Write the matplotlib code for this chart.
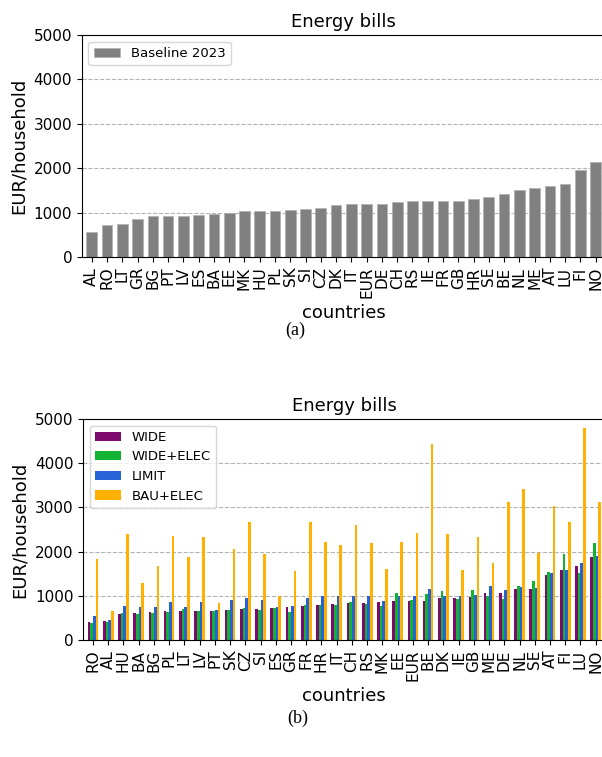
"""
Energy bills per household: baseline 2023 and scenarios.
"""

import numpy as np
import matplotlib
matplotlib.use('Agg')
import matplotlib.pyplot as plt

# --- Data (a): baseline 2023 ---
base_countries = ['AL', 'RO', 'LT', 'GR', 'BG', 'PT', 'LV', 'ES', 'BA', 'EE', 'MK',
                  'HU', 'PL', 'SK', 'SI', 'CZ', 'DK', 'IT', 'EUR', 'DE', 'CH', 'RS',
                  'IE', 'FR', 'GB', 'HR', 'SE', 'BE', 'NL', 'ME', 'AT', 'LU', 'FI', 'NO']
base_values = [564, 714, 737, 865, 925, 925, 932, 955, 962, 985, 1030,
               1038, 1045, 1060, 1083, 1113, 1173, 1195, 1195, 1203, 1241, 1256,
               1263, 1263, 1271, 1301, 1353, 1421, 1519, 1549, 1594, 1647, 1970, 2150]

# --- Data (b): scenarios ---
scen_countries = ['RO', 'AL', 'HU', 'BA', 'BG', 'PL', 'LT', 'LV', 'PT', 'SK', 'CZ',
                  'SI', 'ES', 'GR', 'FR', 'HR', 'IT', 'CH', 'RS', 'MK', 'EE', 'EUR',
                  'BE', 'DK', 'IE', 'GB', 'ME', 'DE', 'NL', 'SE', 'AT', 'FI', 'LU', 'NO']
wide = [414, 429, 586, 609, 632, 647, 647, 654, 654, 669, 692,
        707, 729, 744, 774, 789, 820, 827, 835, 850, 880, 880,
        887, 947, 947, 970, 1053, 1068, 1143, 1150, 1459, 1579, 1677, 1880]
wide_elec = [391, 414, 617, 586, 609, 632, 707, 647, 647, 669, 729,
             684, 729, 632, 797, 797, 782, 865, 805, 759, 1053, 895,
             1038, 1105, 932, 1128, 1000, 932, 1211, 1338, 1534, 1955, 1511, 2188]
limit = [541, 444, 767, 737, 744, 865, 744, 850, 669, 902, 947,
         895, 744, 774, 955, 992, 992, 1000, 1000, 887, 1000, 992,
         1143, 985, 992, 1008, 1211, 1120, 1188, 1165, 1511, 1594, 1752, 1902]
bau_elec = [1827, 662, 2391, 1293, 1669, 2361, 1872, 2338, 835, 2060, 2677,
            1940, 1000, 1564, 2677, 2211, 2158, 2602, 2188, 1602, 2211, 2421,
            4434, 2398, 1579, 2323, 1752, 3113, 3406, 1977, 3038, 2677, 4800, 3113]

scen_names = ['WIDE', 'WIDE+ELEC', 'LIMIT', 'BAU+ELEC']
scen_colors = ['#7d0a6c', '#12b233', '#2563d6', '#ffb000']

plt.rcParams['font.family'] = 'DejaVu Sans'
plt.rcParams['font.size'] = 11

fig = plt.figure(figsize=(6.02, 7.57), dpi=100)

# --- (a) baseline ---
ax1 = fig.add_axes([0.136, 0.6605, 0.87, 0.2933])
x1 = np.arange(len(base_countries))
ax1.bar(x1, base_values, width=0.7, color='gray', edgecolor='#b0b0b0',
        linewidth=0.5, label='Baseline 2023', zorder=2)
ax1.set_xticks(x1)
ax1.set_xticklabels(base_countries, rotation=90)
ax1.set_xlim(-0.65, len(base_countries) - 0.35)
ax1.set_ylim(0, 5000)
ax1.set_yticks(range(0, 5001, 1000))
ax1.tick_params(labelsize=11)
ax1.grid(axis='y', linestyle='--', color='gray', alpha=0.6, linewidth=0.8, zorder=0)
ax1.set_axisbelow(True)
ax1.set_title('Energy bills', fontsize=13)
ax1.set_xlabel('countries', fontsize=13)
ax1.set_ylabel('EUR/household', fontsize=13)
ax1.legend(loc='upper left', fontsize=9.5)

# --- (b) scenarios ---
ax2 = fig.add_axes([0.138, 0.1546, 0.868, 0.2919])
x2 = np.arange(len(scen_countries))
w = 0.175
for i, (vals, name, col) in enumerate(zip([wide, wide_elec, limit, bau_elec],
                                           scen_names, scen_colors)):
    ax2.bar(x2 + (i - 1.5) * w, vals, width=w, color=col, label=name, zorder=2)
ax2.set_xticks(x2)
ax2.set_xticklabels(scen_countries, rotation=90)
ax2.set_xlim(-0.65, len(scen_countries) - 0.35)
ax2.set_ylim(0, 5000)
ax2.set_yticks(range(0, 5001, 1000))
ax2.tick_params(labelsize=11)
ax2.grid(axis='y', linestyle='--', color='gray', alpha=0.6, linewidth=0.8, zorder=0)
ax2.set_axisbelow(True)
ax2.set_title('Energy bills', fontsize=13)
ax2.set_xlabel('countries', fontsize=13)
ax2.set_ylabel('EUR/household', fontsize=13)
ax2.legend(loc='upper left', fontsize=9.5)

# --- captions ---
fig.text(0.49, 1 - 330 / 757, '(a)', ha='center', va='center',
         family='Liberation Serif', fontsize=13)
fig.text(0.495, 1 - 718 / 757, '(b)', ha='center', va='center',
         family='Liberation Serif', fontsize=13)

fig.savefig('out.png', dpi=100)
plt.close(fig)
print("Saved: out.png")
